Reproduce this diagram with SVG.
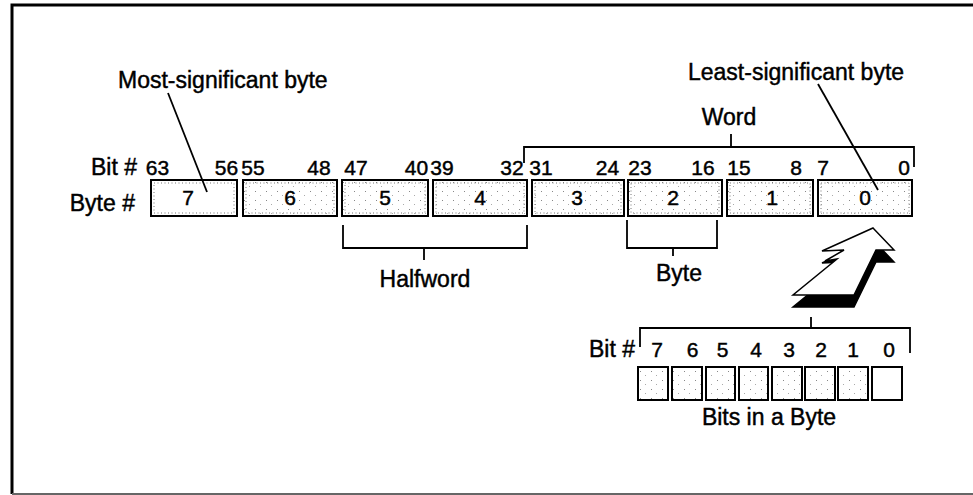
<svg xmlns="http://www.w3.org/2000/svg" width="973" height="495" viewBox="0 0 973 495">
<defs>
<style>
text{font-family:"Liberation Sans",Arial,sans-serif;fill:#000;stroke:#000;stroke-width:0.45}
.lbl{font-size:23px}
.num{font-size:21px}
.c{text-anchor:middle}
.e{text-anchor:end}
.box{fill:url(#stip);stroke:#000;stroke-width:2}
.wbox{fill:#fff;stroke:#000;stroke-width:2}
.inner{fill:none;stroke:#777;stroke-width:1;stroke-dasharray:1 2.5}
.ln{fill:none;stroke:#000;stroke-width:1.8}
</style>
<pattern id="stip" width="11" height="9" patternUnits="userSpaceOnUse">
<rect width="11" height="9" fill="#fff"/>
<rect x="2" y="2" width="1" height="1" fill="#888"/>
<rect x="7" y="6" width="1" height="1" fill="#aaa"/>
</pattern>
</defs>
<rect width="973" height="495" fill="#fff"/>
<g id="frame">
<path d="M973,5 H12 V494" fill="none" stroke="#000" stroke-width="3"/>
<path d="M12,494 H973" fill="none" stroke="#666" stroke-width="2"/>
</g>
<g id="labels-left">
<text class="lbl e" x="137" y="175">Bit #</text>
<text class="lbl e" x="135" y="211">Byte #</text>
</g>
<g id="bitnums">
<text class="num c" x="157.5" y="175">63</text>
<text class="num c" x="226.5" y="175">56</text>
<text class="num c" x="253" y="175">55</text>
<text class="num c" x="319" y="175">48</text>
<text class="num c" x="356" y="175">47</text>
<text class="num c" x="416.5" y="175">40</text>
<text class="num c" x="442" y="175">39</text>
<text class="num c" x="512" y="175">32</text>
<text class="num c" x="541" y="175">31</text>
<text class="num c" x="607.5" y="175">24</text>
<text class="num c" x="640" y="175">23</text>
<text class="num c" x="703" y="175">16</text>
<text class="num c" x="739" y="175">15</text>
<text class="num c" x="796" y="175">8</text>
<text class="num c" x="823" y="175">7</text>
<text class="num c" x="904" y="175">0</text>
</g>
<g id="byte7"><rect class="wbox" x="151" y="180" width="86" height="36"/><rect class="inner" x="154" y="183" width="80" height="30"/><text class="num c" x="188" y="205">7</text></g>
<g id="byte6"><rect class="box" x="243" y="180" width="94" height="36"/><rect class="inner" x="246" y="183" width="88" height="30"/><text class="num c" x="290" y="205">6</text></g>
<g id="byte5"><rect class="box" x="342" y="180" width="86" height="36"/><rect class="inner" x="345" y="183" width="80" height="30"/><text class="num c" x="385" y="205">5</text></g>
<g id="byte4"><rect class="box" x="433" y="180" width="94" height="36"/><rect class="inner" x="436" y="183" width="88" height="30"/><text class="num c" x="480" y="205">4</text></g>
<g id="byte3"><rect class="box" x="532" y="180" width="92" height="36"/><rect class="inner" x="535" y="183" width="86" height="30"/><text class="num c" x="577" y="205">3</text></g>
<g id="byte2"><rect class="box" x="628" y="180" width="94" height="36"/><rect class="inner" x="631" y="183" width="88" height="30"/><text class="num c" x="673" y="205">2</text></g>
<g id="byte1"><rect class="box" x="727" y="180" width="86" height="36"/><rect class="inner" x="730" y="183" width="80" height="30"/><text class="num c" x="772" y="205">1</text></g>
<g id="byte0"><rect class="box" x="818" y="180" width="94" height="36"/><rect class="inner" x="821" y="183" width="88" height="30"/><text class="num c" x="865" y="205">0</text></g>
<g id="msb"><text class="lbl" x="118" y="88">Most-significant byte</text></g>
<g id="lsb"><text class="lbl" x="688" y="80">Least-significant byte</text></g>
<g id="word"><text class="lbl c" x="729" y="125">Word</text></g>
<g id="halfword"><text class="lbl c" x="425" y="287">Halfword</text></g>
<g id="byte"><text class="lbl c" x="679" y="281">Byte</text></g>
<g id="bitsinbyte">
<text class="lbl e" x="635" y="357">Bit #</text>
<text class="num c" x="657" y="357">7</text>
<text class="num c" x="692.5" y="357">6</text>
<text class="num c" x="722.5" y="357">5</text>
<text class="num c" x="756" y="357">4</text>
<text class="num c" x="789" y="357">3</text>
<text class="num c" x="821" y="357">2</text>
<text class="num c" x="853" y="357">1</text>
<text class="num c" x="889" y="357">0</text>
<rect class="box" x="638" y="367" width="30" height="33"/>
<rect class="box" x="672" y="367" width="30" height="33"/>
<rect class="box" x="706" y="367" width="29" height="33"/>
<rect class="box" x="739" y="367" width="29" height="33"/>
<rect class="box" x="772" y="367" width="30" height="33"/>
<rect class="box" x="805" y="367" width="30" height="33"/>
<rect class="box" x="838" y="367" width="30" height="33"/>
<rect class="wbox" x="872" y="367" width="30" height="33"/>
<text class="lbl c" x="769" y="425">Bits in a Byte</text>
</g>
<g id="connectors">
<line class="ln" x1="168" y1="93" x2="207" y2="192"/>
<line class="ln" x1="818" y1="84" x2="878" y2="190"/>
<path class="ln" d="M524,163 V147 H914 V167 M731,147 V134"/>
<path class="ln" d="M343,225 V248 H527 V225 M424,248 V260"/>
<path class="ln" d="M627,220 V248 H717 V220 M673,248 V256"/>
<path class="ln" d="M640,347 V328 H910 V353 M811,328 V317"/>
<polygon points="873,240 894,262 876,262 854,307 793,307 837,271 825,273 844,262 822,263" fill="#000" stroke="#000" stroke-width="1.5"/>
<polygon points="873,228 894,250 876,250 854,295 793,295 837,259 825,261 844,250 822,251" fill="#fff" stroke="#000" stroke-width="1.5"/>
</g>
</svg>
